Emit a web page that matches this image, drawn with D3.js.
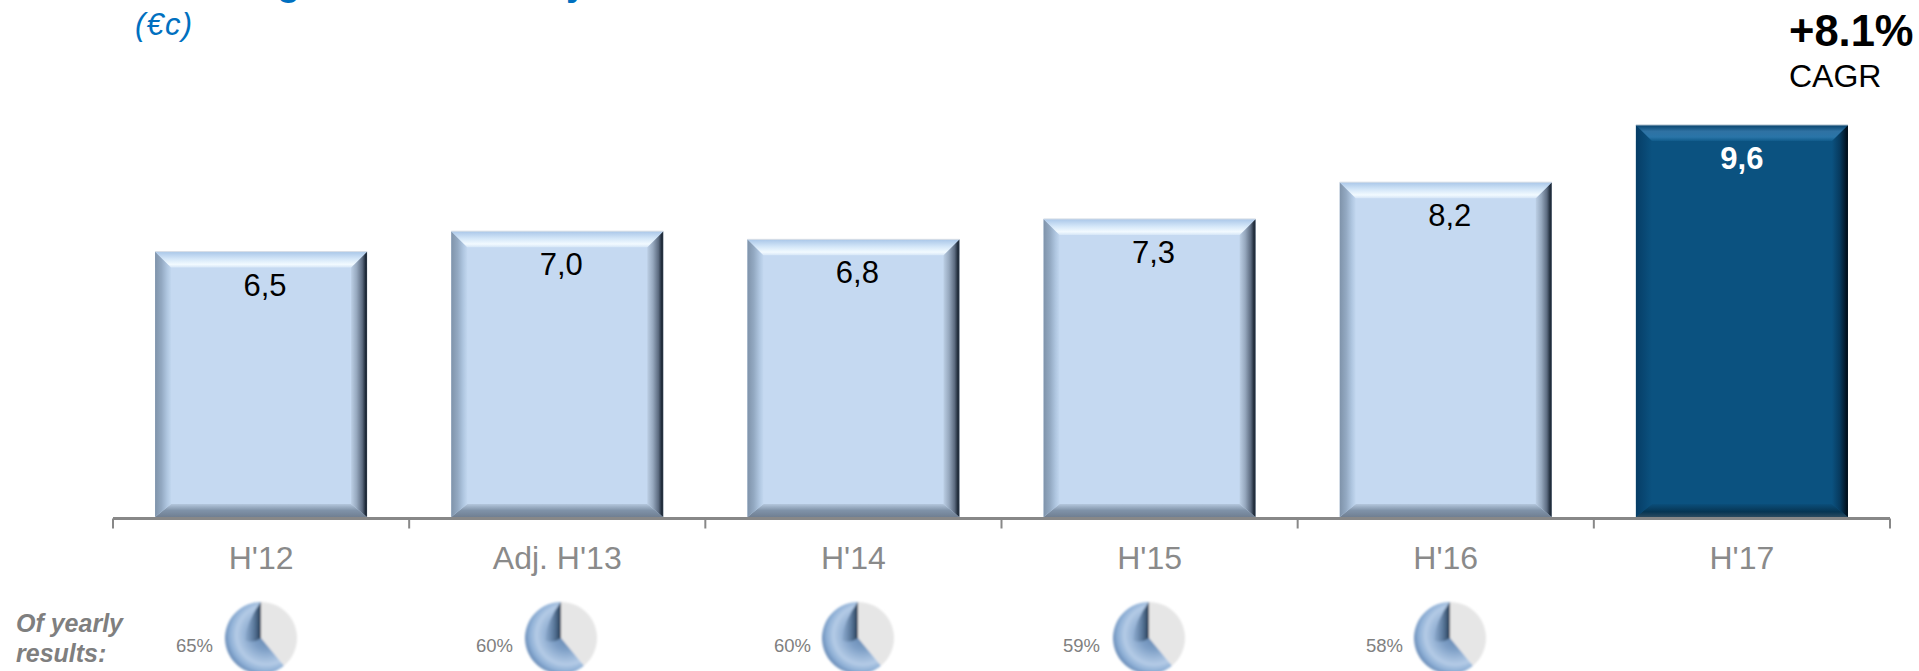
<!DOCTYPE html>
<html>
<head>
<meta charset="utf-8">
<style>
html,body{margin:0;padding:0;background:#fff;overflow:hidden}
svg{display:block}
text{font-family:"Liberation Sans",Arial,sans-serif}
</style>
<script src="https://cdn.jsdelivr.net/npm/d3@7/dist/d3.min.js"></script>
</head>
<body>
<svg id="c" width="1919" height="671"></svg>
<script>
const categories = ["H'12", "Adj. H'13", "H'14", "H'15", "H'16", "H'17"];
const values = [6.5, 7.0, 6.8, 7.3, 8.2, 9.6];
const valueLabels = ["6,5", "7,0", "6,8", "7,3", "8,2", "9,6"];
const pieCategories = ["H'12", "Adj. H'13", "H'14", "H'15", "H'16"];
const pieLabels = ["65%", "60%", "60%", "59%", "58%"];
// the pictograms in the reference are one repeated image: the wedge reads about 61% in each
const pieDrawnShares = [61, 61, 61, 61, 61];
const pieCenters = [261, 561, 858, 1149, 1450];
const pieLabelRight = [213, 513, 811, 1100, 1403];

const W = 1919, H = 671;
const svg = d3.select("#c");
const defs = svg.append("defs");

const x = d3.scaleBand().domain(categories).range([113, 1890]).paddingInner(0.2842).paddingOuter(0.1421);
const y = d3.scaleLinear().domain([0, 9.6]).range([517, 125]);

function grad(id, dir, stops) {
  const g = defs.append("linearGradient").attr("id", id)
    .attr("x1", 0).attr("y1", 0)
    .attr("x2", dir === "h" ? 1 : 0).attr("y2", dir === "h" ? 0 : 1);
  stops.forEach(s => g.append("stop").attr("offset", s[0]).attr("stop-color", s[1]));
}
grad("l-top", "v", [[0, "#a9c6e8"], [0.45, "#d3e6f8"], [0.8, "#f2faff"], [1, "#d6e6f7"]]);
grad("l-left", "h", [[0, "#7f93aa"], [0.4, "#93a9c2"], [0.75, "#afc6e0"], [1, "#c2d7ef"]]);
grad("l-right", "h", [[0, "#bccfe5"], [0.35, "#96a8be"], [0.7, "#5c6b80"], [0.9, "#1f2b3a"], [1, "#2a3542"]]);
grad("l-bottom", "v", [[0, "#b4c7dd"], [0.5, "#7f92a8"], [1, "#707f92"]]);
grad("d-top", "v", [[0, "#07426c"], [0.4, "#2f72a3"], [0.75, "#2a75a8"], [1, "#105b8b"]]);
grad("d-left", "h", [[0, "#063d66"], [1, "#0b5280"]]);
grad("d-right", "h", [[0, "#0b5280"], [0.5, "#073a5e"], [1, "#000a14"]]);
grad("d-bottom", "v", [[0, "#0b4e7a"], [0.6, "#063553"], [1, "#2a4a60"]]);

const bevelSide = 16, bevelTop = 16, bevelBottom = 13;
const bars = svg.append("g").selectAll("g").data(categories).join("g");
bars.each(function (c, i) {
  const g = d3.select(this);
  const x0 = x(c), x1 = x0 + x.bandwidth(), t = y(values[i]), b = y(0);
  const p = i === categories.length - 1 ? "d" : "l";
  g.append("rect").attr("x", x0).attr("y", t).attr("width", x1 - x0).attr("height", b - t)
    .attr("fill", p === "d" ? "#0b5280" : "#c5d9f1");
  const ix0 = x0 + bevelSide, ix1 = x1 - bevelSide, it = t + bevelTop, ib = b - bevelBottom;
  const poly = (pts, f) => g.append("polygon").attr("points", pts.map(q => q.join(",")).join(" ")).attr("fill", `url(#${p}-${f})`);
  poly([[x0, b], [ix0, ib], [ix1, ib], [x1, b]], "bottom");
  poly([[x0, t], [ix0, it], [ix0, ib], [x0, b]], "left");
  poly([[x1, t], [ix1, it], [ix1, ib], [x1, b]], "right");
  poly([[x0, t], [x1, t], [ix1, it], [ix0, it]], "top");
  g.append("line").attr("x1", x0).attr("x2", x1).attr("y1", t).attr("y2", t)
    .attr("stroke", p === "d" ? "#a9bccb" : "#d9dfe6").attr("stroke-width", 1);
  g.append("text")
    .attr("x", x0 + x.bandwidth() / 2 + (p === "d" ? 0 : 4))
    .attr("y", t + 44)
    .attr("text-anchor", "middle")
    .attr("font-size", 31)
    .attr("font-weight", p === "d" ? "bold" : "normal")
    .attr("fill", p === "d" ? "#fff" : "#000")
    .text(valueLabels[i]);
});

// axis
const axisG = svg.append("g").attr("transform", `translate(0,518.5)`);
axisG.call(d3.axisBottom(x).tickSize(0).tickPadding(0));
axisG.select(".domain").attr("stroke", "#888").attr("stroke-width", 3).attr("d", `M113,0H1890`);
axisG.selectAll(".tick text")
  .attr("y", 0).attr("dy", 0)
  .attr("transform", "translate(0,50.5)")
  .attr("font-size", 32)
  .attr("font-family", '"Liberation Sans",Arial,sans-serif')
  .attr("fill", "#8a8a8a");
const edges = categories.map(c => x(c) - x.step() * x.paddingInner() / 2);
edges.push(x(categories[categories.length - 1]) + x.bandwidth() + x.step() * x.paddingInner() / 2);
axisG.selectAll("line.edge").data(edges).join("line").attr("class", "edge")
  .attr("x1", d => d).attr("x2", d => d).attr("y1", 0).attr("y2", 10)
  .attr("stroke", "#888").attr("stroke-width", 2);

// cropped title: only the descenders of two letters reach the picture
svg.append("g").attr("fill", "#0070c0").attr("font-weight", "bold").attr("font-size", 38)
  .selectAll("text").data([["g", 277], ["y", 566]]).join("text")
  .attr("x", d => d[1]).attr("y", -5).text(d => d[0]);

svg.append("text").attr("x", 135).attr("y", 35).attr("font-size", 31).attr("font-style", "italic")
  .attr("fill", "#0070c0").attr("letter-spacing", 1.2).text("(€c)");

svg.append("text").attr("x", 1789).attr("y", 46).attr("font-size", 43.5).attr("font-weight", "bold").attr("fill", "#000").text("+8.1%");
svg.append("text").attr("x", 1789).attr("y", 87).attr("font-size", 32).attr("fill", "#000").text("CAGR");

svg.append("g").attr("fill", "#7f7f7f").attr("font-weight", "bold").attr("font-style", "italic").attr("font-size", 25)
  .selectAll("text").data([["Of yearly", 632], ["results:", 662]]).join("text")
  .attr("x", 16).attr("y", d => d[1]).text(d => d[0]);

// pies
const rg = defs.append("radialGradient").attr("id", "pieBlue").attr("gradientUnits", "userSpaceOnUse")
  .attr("cx", 5).attr("cy", -3).attr("r", 41);
[[0, "#5f83ad"], [0.35, "#7e9fc6"], [0.58, "#a0bbdb"], [0.72, "#b4cbe6"], [0.88, "#8fb0d6"], [1, "#6d90bb"]]
  .forEach(s => rg.append("stop").attr("offset", s[0]).attr("stop-color", s[1]));
const lg = defs.append("linearGradient").attr("id", "pieInner").attr("gradientUnits", "userSpaceOnUse")
  .attr("x1", 0).attr("y1", 0).attr("x2", -17).attr("y2", 0);
[[0, "#26384e", 1], [0.3, "#4a6788", 0.95], [1, "#7e9cc0", 0.2]]
  .forEach(s => lg.append("stop").attr("offset", s[0]).attr("stop-color", s[1]).attr("stop-opacity", s[2]));
defs.append("filter").attr("id", "soft").attr("x", "-20%").attr("y", "-20%").attr("width", "140%").attr("height", "140%")
  .append("feGaussianBlur").attr("stdDeviation", 0.8);

const R = 36, pieY = 638;
const pieGen = d3.pie().sort(null).value(d => d).startAngle(0).endAngle(-2 * Math.PI);
const arcGen = d3.arc().innerRadius(0).outerRadius(R);
const pieG = svg.append("g").selectAll("g").data(pieCategories).join("g")
  .attr("transform", (c, i) => `translate(${pieCenters[i]},${pieY})`);
pieG.each(function (c, i) {
  const g = d3.select(this).append("g").attr("filter", "url(#soft)");
  const arcs = pieGen([pieDrawnShares[i], 100 - pieDrawnShares[i]]);
  g.append("path").attr("d", arcGen(arcs[1])).attr("fill", "#e6e6e6");
  g.append("path").attr("d", arcGen(arcs[0])).attr("fill", "url(#pieBlue)");
  const innerPath = d3.path();
  innerPath.moveTo(0, -R);
  innerPath.quadraticCurveTo(-14, -18, -16, 2);
  innerPath.quadraticCurveTo(-8, 6, 0, 0);
  innerPath.closePath();
  g.append("path").attr("d", innerPath.toString()).attr("fill", "url(#pieInner)");
});
svg.append("g").attr("fill", "#808080").attr("font-size", 18.5).attr("text-anchor", "end")
  .selectAll("text").data(pieLabels).join("text")
  .attr("x", (d, i) => pieLabelRight[i]).attr("y", 652).text(d => d);
</script>
</body>
</html>
